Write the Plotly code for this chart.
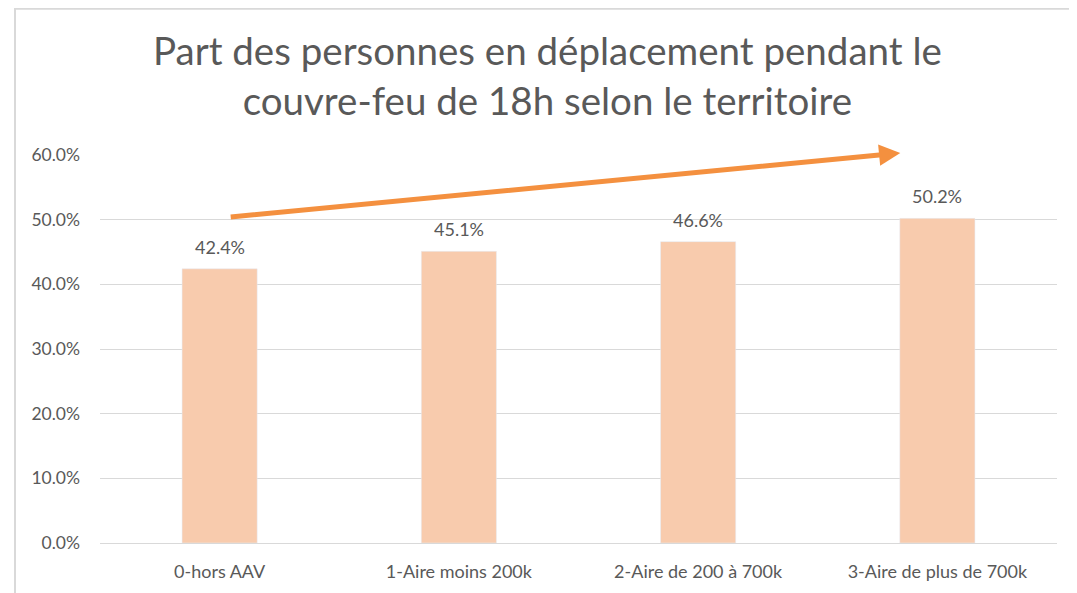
import plotly.graph_objects as go

# Data
categories = ["0-hors AAV", "1-Aire moins 200k", "2-Aire de 200 à 700k", "3-Aire de plus de 700k"]
shares = [0.424, 0.451, 0.466, 0.502]
labels = ["42.4%", "45.1%", "46.6%", "50.2%"]

title_text = "Part des personnes en déplacement pendant le<br>couvre-feu de 18h selon le territoire"
text_color = "#595959"
font_family = "Lato, 'Open Sans', sans-serif"

fig = go.Figure(go.Bar(
    x=categories,
    y=shares,
    marker_color="#F8CBAD",
))

# Data labels above the bars
for cat, val, lab in zip(categories, shares, labels):
    fig.add_annotation(x=cat, y=val, text=lab, showarrow=False,
                       yanchor="bottom", yshift=9,
                       font=dict(size=18, color=text_color))

# Title
fig.add_annotation(x=0.468, y=1.205, xref="paper", yref="paper",
                   text=title_text, showarrow=False, yanchor="middle",
                   font=dict(size=38.5, color=text_color, family=font_family))

# Trend arrow drawn over the bars
fig.add_annotation(
    x=2.845, y=0.603, ax=0.04, ay=0.504,
    xref="x", yref="y", axref="x", ayref="y",
    showarrow=True, arrowhead=2, arrowsize=0.85, arrowwidth=5,
    arrowcolor="#F4903F", text="",
)

# Chart frame
fig.add_shape(type="rect", xref="paper", yref="paper",
              x0=-0.0888, x1=1.0199, y0=-0.3, y1=1.377,
              line=dict(color="#D9D9D9", width=2), layer="below")

fig.update_layout(
    width=1069, height=585,
    margin=dict(l=92, r=20, t=147, b=50),
    paper_bgcolor="white", plot_bgcolor="white",
    font=dict(family=font_family, color=text_color, size=18),
    bargap=0.686,
    showlegend=False,
)
fig.update_yaxes(range=[0, 0.6], dtick=0.1, tickformat=".1%",
                 gridcolor="#D9D9D9", gridwidth=1, zeroline=False,
                 showline=False, ticks="", ticklabelstandoff=19,
                 tickfont=dict(size=17.5, color=text_color))
fig.update_xaxes(showline=True, linecolor="#D9D9D9", linewidth=1,
                 ticks="", tickfont=dict(size=18, color=text_color),
                 ticklabelstandoff=12)

fig.write_html("out.html")
